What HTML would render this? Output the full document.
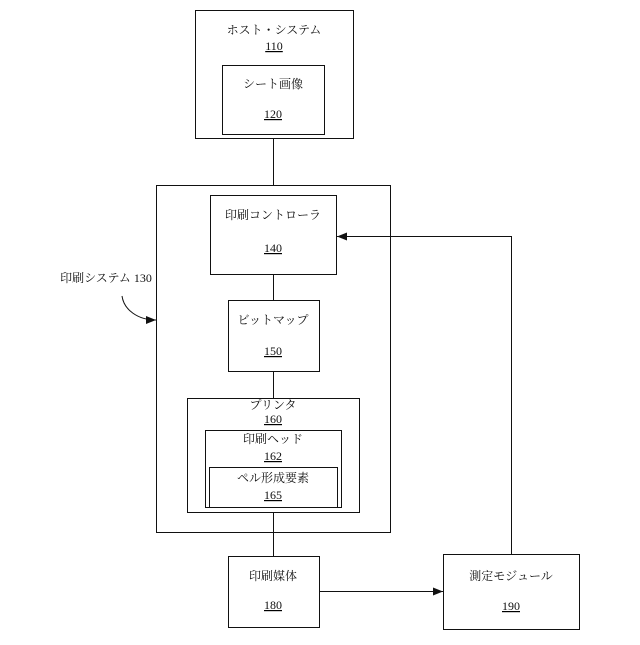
<!DOCTYPE html><html><head><meta charset="utf-8"><style>
body{margin:0;background:#fff}
svg text{font-family:"Liberation Serif","Noto Serif CJK SC",serif;font-size:12px;fill:#111;text-anchor:middle}
</style></head><body>
<svg width="640" height="640" viewBox="0 0 640 640" xmlns="http://www.w3.org/2000/svg">
<defs><marker id="a" markerWidth="10" markerHeight="8" refX="10" refY="4" orient="auto" markerUnits="userSpaceOnUse"><path d="M0,0L10,4L0,8z" fill="#111"/></marker></defs>
<g fill="none" stroke="#111" stroke-width="1">
<rect x="195.5" y="10.5" width="158" height="128"/>
<rect x="222.5" y="65.5" width="102" height="69"/>
<rect x="156.5" y="185.5" width="234" height="347"/>
<rect x="210.5" y="195.5" width="126" height="79"/>
<rect x="228.5" y="300.5" width="91" height="71"/>
<rect x="187.5" y="398.5" width="172" height="114"/>
<rect x="205.5" y="430.5" width="136" height="77"/>
<rect x="209.5" y="467.5" width="128" height="40"/>
<rect x="228.5" y="556.5" width="91" height="71"/>
<rect x="443.5" y="554.5" width="136" height="75"/>
<path d="M273.5 138V185M273.5 274V300M273.5 371V398M273.5 512V556"/>
<path d="M320 591.5H443" marker-end="url(#a)"/>
<path d="M511.5 554V236.5H337" marker-end="url(#a)"/>
<path d="M122 296C124 310 138 320 156 320" marker-end="url(#a)"/>
</g>
<g text-decoration="underline">
<text x="274" y="50">110</text><text x="273" y="118">120</text><text x="273" y="252">140</text>
<text x="273" y="355">150</text><text x="273" y="423">160</text><text x="273" y="460">162</text>
<text x="273" y="499">165</text><text x="273" y="609">180</text><text x="511" y="610">190</text>
</g>
<text x="274" y="34">ホスト・システム</text>
<text x="273" y="88">シート画像</text>
<text x="273" y="219">印刷コントローラ</text>
<text x="273" y="324">ビットマップ</text>
<text x="273" y="409">プリンタ</text>
<text x="273" y="443">印刷ヘッド</text>
<text x="273" y="482">ペル形成要素</text>
<text x="273" y="580">印刷媒体</text>
<text x="511" y="580">測定モジュール</text>
<text x="106" y="282">印刷システム 130</text>
</svg></body></html>
